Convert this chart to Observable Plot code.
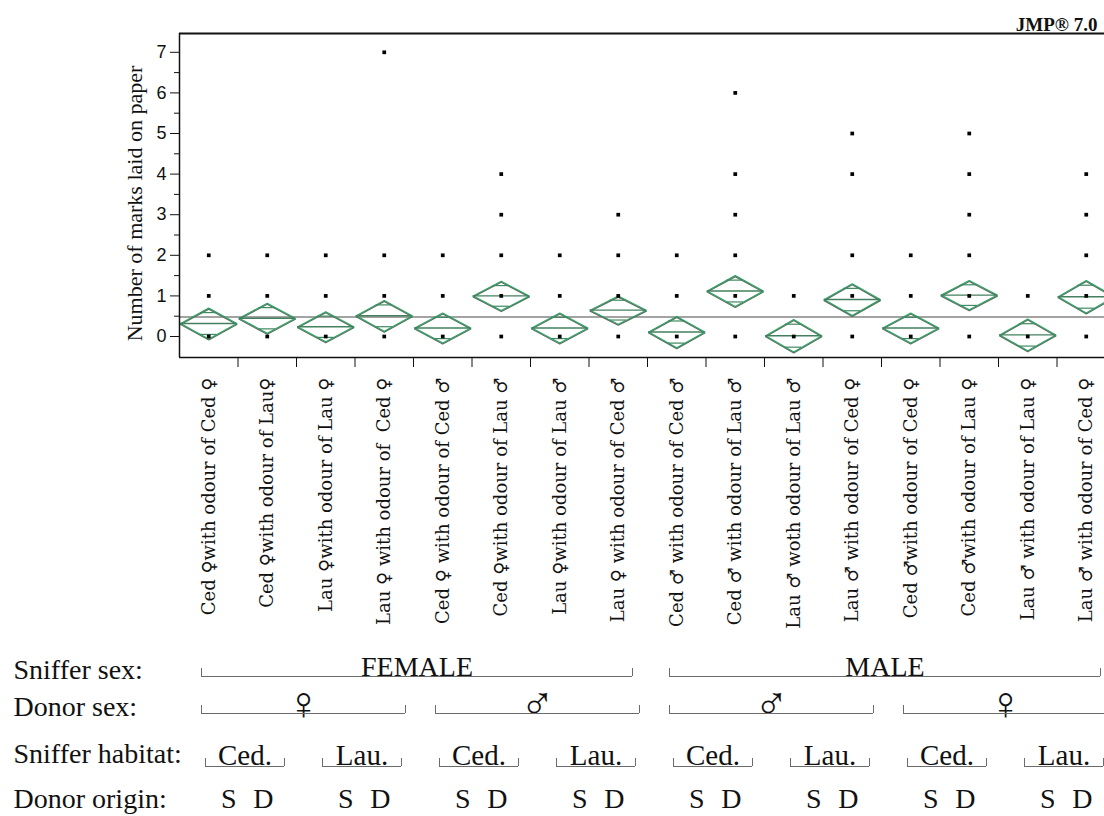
<!DOCTYPE html>
<html>
<head>
<meta charset="utf-8">
<script src="https://cdn.jsdelivr.net/npm/d3@7"></script>
<script src="https://cdn.jsdelivr.net/npm/@observablehq/plot@0.6"></script>
<style>
  html, body { margin: 0; padding: 0; background: #fff; width: 1104px; height: 816px; overflow: hidden; }
  #chart svg { display: block; }
</style>
</head>
<body>
<div id="chart"></div>
<script>
// Sniffer / odour-donor combinations, in plotting order
const categories = [
  "Ced \u2640with odour of Ced \u2640",
  "Ced \u2640with odour of Lau\u2640",
  "Lau \u2640with odour of Lau \u2640",
  "Lau \u2640 with odour of  Ced \u2640",
  "Ced \u2640 with odour of Ced \u2642",
  "Ced \u2640with odour of Lau \u2642",
  "Lau \u2640with odour of Lau \u2642",
  "Lau \u2640 with odour of Ced \u2642",
  "Ced \u2642 with odour of Ced \u2642",
  "Ced \u2642 with odour of Lau \u2642",
  "Lau \u2642 woth odour of Lau \u2642",
  "Lau \u2642 with odour of Ced \u2640",
  "Ced \u2642with odour of Ced \u2640",
  "Ced \u2642with odour of Lau \u2640",
  "Lau \u2642 with odour of Lau \u2640",
  "Lau \u2642 with odour of Ced \u2640"
];

// Group means and 95% confidence half-widths (means diamonds)
const means  = [0.32, 0.45, 0.24, 0.51, 0.21, 1.00, 0.21, 0.65, 0.11, 1.12, 0.02, 0.91, 0.21, 1.02, 0.04, 0.98];
const ciHalf = [0.38, 0.37, 0.37, 0.38, 0.37, 0.36, 0.37, 0.345, 0.385, 0.38, 0.40, 0.39, 0.37, 0.36, 0.39, 0.40];

// Distinct observed counts in each group
const observed = [
  [0, 1, 2], [0, 1, 2], [0, 1, 2], [0, 1, 2, 7],
  [0, 1, 2], [0, 1, 2, 3, 4], [0, 1, 2], [0, 1, 2, 3],
  [0, 1, 2], [0, 1, 2, 3, 4, 6], [0, 1], [0, 1, 2, 4, 5],
  [0, 1, 2], [0, 1, 2, 3, 4, 5], [0, 1], [0, 1, 2, 3, 4]
];

const grandMean = 0.48;
const yTicks = [0, 1, 2, 3, 4, 5, 6, 7];
const yMinorTicks = [0.5, 1.5, 2.5, 3.5, 4.5, 5.5, 6.5];
const yTitle = "Number of marks laid on paper";
const stamp = "JMP\u00AE 7.0";

// Factor levels written under the axis
const rowTitles = ["Sniffer sex:", "Donor sex:", "Sniffer habitat:", "Donor origin:"];
const snifferSex = [
  {label: "FEMALE", from: 0, to: 7},
  {label: "MALE", from: 8, to: 15}
];
const donorSex = [
  {label: "\u2640", from: 0, to: 3},
  {label: "\u2642", from: 4, to: 7},
  {label: "\u2642", from: 8, to: 11},
  {label: "\u2640", from: 12, to: 15}
];
const snifferHabitat = [
  {label: "Ced.", from: 0, to: 1}, {label: "Lau.", from: 2, to: 3},
  {label: "Ced.", from: 4, to: 5}, {label: "Lau.", from: 6, to: 7},
  {label: "Ced.", from: 8, to: 9}, {label: "Lau.", from: 10, to: 11},
  {label: "Ced.", from: 12, to: 13}, {label: "Lau.", from: 14, to: 15}
];
const donorOrigin = ["S", "D", "S", "D", "S", "D", "S", "D", "S", "D", "S", "D", "S", "D", "S", "D"];

// ---- layout ----
const W = 1104, LEFT = 179, BAND = 58.5;
const xDomain = [-0.5, -0.5 + (W - LEFT) / BAND];
const yDomain = [-0.517, 7.463];
const HW = 0.48;                       // half diamond width, in category units
const OV = 1 - Math.SQRT1_2;           // overlap-mark width fraction

const serif = "'Liberation Serif', 'Times New Roman', serif";
const sans = "'Liberation Sans', Arial, sans-serif";
const labelSerif = "'DejaVu Serif', serif";

const idx = d3.range(categories.length);
const points = idx.flatMap(i => observed[i].map(v => ({i, v})));
const diamondPts = idx.flatMap(i => {
  const m = means[i], h = ciHalf[i];
  return [[i - HW, m], [i, m + h], [i + HW, m], [i, m - h], [i - HW, m]]
    .map(([x, y]) => ({i, x, y}));
});
const overlapMarks = idx.flatMap(i => [1, -1].map(s => ({i, y: means[i] + s * ciHalf[i] * Math.SQRT1_2})));
const separators = d3.range(1, categories.length + 1).map(i => i - 0.5);

const main = Plot.plot({
  width: W,
  height: 640,
  marginLeft: LEFT,
  marginRight: 0,
  marginTop: 33,
  marginBottom: 283,
  x: {type: "linear", domain: xDomain},
  y: {domain: yDomain},
  style: {background: "white", color: "#111", fontFamily: serif, fontSize: "18px", overflow: "hidden"},
  marks: [
    // grand mean
    Plot.ruleY([grandMean], {stroke: "#858585", strokeWidth: 1.5}),
    // means diamonds
    Plot.line(diamondPts, {x: "x", y: "y", z: "i", stroke: "#5d6d64", strokeWidth: 1.3, dy: 1}),
    Plot.line(diamondPts, {x: "x", y: "y", z: "i", stroke: "#2aa15f", strokeWidth: 1.1}),
    Plot.ruleY(idx, {y: i => means[i], x1: i => i - HW, x2: i => i + HW, stroke: "#43805f", strokeWidth: 1.4}),
    Plot.ruleY(overlapMarks, {y: "y", x1: d => d.i - HW * OV, x2: d => d.i + HW * OV, stroke: "#3f8a62", strokeWidth: 1.2}),
    // observations
    Plot.dot(points, {x: "i", y: "v", symbol: "square", r: 2.1, fill: "#000", stroke: null}),
    // frame lines
    Plot.ruleY([yDomain[1]], {stroke: "#111", strokeWidth: 2}),
    Plot.ruleY([yDomain[0]], {stroke: "#111", strokeWidth: 1.5}),
    Plot.ruleX([xDomain[0]], {stroke: "#111", strokeWidth: 1.5}),
    // y axis
    Plot.axisY({ticks: yTicks, tickSize: 9, tickPadding: 4, fontSize: 18, fontFamily: sans, label: null}),
    Plot.axisY({ticks: yMinorTicks, tickSize: 5, tickFormat: () => "", label: null}),
    Plot.text([yTitle], {frameAnchor: "left", textAnchor: "middle", rotate: -90, dx: -45, dy: 8,
                         fontSize: 22, fontFamily: serif}),
    // x axis: group separators and rotated group names
    Plot.axisX({ticks: separators, tickSize: 10, tickFormat: () => "", label: null}),
    Plot.axisX({ticks: idx, tickSize: 0, tickPadding: 20, tickRotate: -90, tickFormat: i => categories[i],
                fontSize: 18, fontFamily: labelSerif, label: null}),
    // software stamp
    Plot.text([stamp], {frameAnchor: "top-right", textAnchor: "end", lineAnchor: "bottom", dx: -7, dy: -3,
                        fontSize: 19, fontWeight: "bold", fontFamily: serif})
  ]
});

// ---- factor annotation under the axis ----
const rowSpecs = [
  {title: rowTitles[0], groups: snifferSex, dy: 0, textDy: -3, lineDy: 6, insetL: 22, insetR: 15, size: 28},
  {title: rowTitles[1], groups: donorSex, dy: -6, textDy: -3, lineDy: 6, insetL: 22, insetR: 8, size: 46},
  {title: rowTitles[2], groups: snifferHabitat, dy: -2, textDy: 1, lineDy: 12, insetL: 26, insetR: 12, size: 29}
];
const bracketStroke = "#6b6b6b";
const rowFont = 28;

const annotationMarks = [];
rowSpecs.forEach(r => {
  annotationMarks.push(
    Plot.text([r.title], {y: d => d, text: d => d, frameAnchor: "left", textAnchor: "start", dx: -(LEFT - 13), dy: r.dy,
                          fontSize: rowFont, fontFamily: serif}),
    Plot.text(r.groups, {x: d => (d.from + d.to) / 2, y: () => r.title, text: "label",
                         dx: (r.insetL - r.insetR) / 2, dy: r.dy + r.textDy, fontSize: r.size, fontFamily: serif}),
    Plot.ruleY(r.groups, {y: () => r.title, x1: d => d.from - 0.5, x2: d => d.to + 0.5,
                          insetLeft: r.insetL, insetRight: r.insetR, dy: r.dy + r.lineDy, stroke: bracketStroke}),
    Plot.ruleX(r.groups, {x: d => d.from - 0.5, y1: () => r.title, y2: () => r.title,
                          insetTop: -8, insetBottom: 0, dx: r.insetL, dy: r.dy + r.lineDy, stroke: bracketStroke}),
    Plot.ruleX(r.groups, {x: d => d.to + 0.5, y1: () => r.title, y2: () => r.title,
                          insetTop: -8, insetBottom: 0, dx: -r.insetR, dy: r.dy + r.lineDy, stroke: bracketStroke})
  );
});
annotationMarks.push(
  Plot.text([rowTitles[3]], {y: d => d, text: d => d, frameAnchor: "left", textAnchor: "start", dx: -(LEFT - 13),
                             fontSize: rowFont, fontFamily: serif}),
  Plot.text(idx.filter(i => donorOrigin[i] === "S"), {x: i => i, y: () => rowTitles[3], text: i => donorOrigin[i],
                             dx: 20, fontSize: rowFont, fontFamily: serif}),
  Plot.text(idx.filter(i => donorOrigin[i] === "D"), {x: i => i, y: () => rowTitles[3], text: i => donorOrigin[i],
                             dx: -4, fontSize: rowFont, fontFamily: serif})
);

const annotation = Plot.plot({
  width: W,
  height: 176,
  marginLeft: LEFT,
  marginRight: 0,
  marginTop: 0,
  marginBottom: 0,
  x: {type: "linear", domain: xDomain, axis: null},
  y: {type: "point", domain: rowTitles, range: [30, 159], padding: 0, axis: null},
  style: {background: "white", color: "#111", fontFamily: serif, overflow: "hidden"},
  marks: annotationMarks
});

const host = document.getElementById("chart");
host.appendChild(main);
host.appendChild(annotation);
</script>
</body>
</html>
